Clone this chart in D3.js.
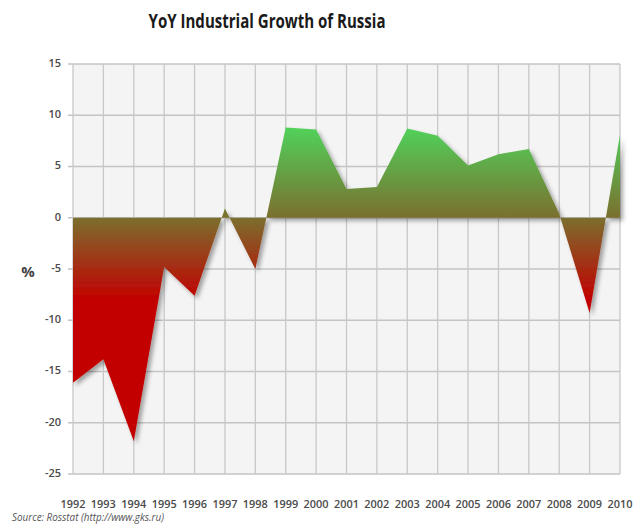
<html>
<head>
<script src="https://cdn.jsdelivr.net/npm/d3@7"></script>
<style>
  body { margin: 0; background: #fff; }
  text { font-family: "Open Sans", "DejaVu Sans", sans-serif; }
</style>
</head>
<body>
<div id="container1"></div>
<script>

const years = [1992,1993,1994,1995,1996,1997,1998,1999,2000,2001,2002,2003,2004,2005,2006,2007,2008,2009,2010];
const growth = [-16.1,-13.8,-21.8,-4.8,-7.6,0.9,-5.0,8.8,8.6,2.8,3.0,8.7,8.0,5.1,6.2,6.7,0.4,-9.3,8.1];
const yTicks = [15,10,5,0,-5,-10,-15,-20,-25];

const data = years.map((d, i) => ({year: d, value: growth[i]}));

const W = 634, H = 530;
const plotLeft = 73, plotRight = 620, plotTop = 64, plotBottom = 474;

const svg = d3.select("#container1")
  .append("svg")
    .attr("width", W)
    .attr("height", H);

const defs = svg.append("defs");

const x = d3.scaleLinear()
    .domain([1992, 2010])
    .range([plotLeft, plotRight]);

const y = d3.scaleLinear()
    .domain([-25, 15])
    .range([plotBottom, plotTop]);

// fill gradient green -> olive -> red
const grad = defs.append("linearGradient")
    .attr("id", "fillGrad")
    .attr("gradientUnits", "userSpaceOnUse")
    .attr("x1", 0).attr("x2", 0)
    .attr("y1", y(9)).attr("y2", y(-10));
grad.append("stop").attr("offset", 0).attr("stop-color", "#4fd45c");
grad.append("stop").attr("offset", 9/19).attr("stop-color", "#7b6f2e");
grad.append("stop").attr("offset", 17/19).attr("stop-color", "#c20000");
grad.append("stop").attr("offset", 1).attr("stop-color", "#c20000");

const shadow = defs.append("filter")
    .attr("id", "shadow")
    .attr("x", "-10%").attr("y", "-10%")
    .attr("width", "130%").attr("height", "130%");
shadow.append("feDropShadow")
    .attr("dx", 3).attr("dy", 3)
    .attr("stdDeviation", 2)
    .attr("flood-color", "#000")
    .attr("flood-opacity", 0.35);

const soft = defs.append("filter").attr("id", "soft");
soft.append("feGaussianBlur").attr("stdDeviation", 0.5);

// plot background
svg.append("rect")
    .attr("x", plotLeft).attr("y", plotTop)
    .attr("width", plotRight - plotLeft).attr("height", plotBottom - plotTop)
    .style("fill", "#f4f4f4");

// grid
const grid = svg.append("g").attr("filter", "url(#soft)");
grid.selectAll("line.h")
  .data(yTicks)
  .join("line")
    .attr("class", "h")
    .attr("x1", plotLeft - 5).attr("x2", plotRight)
    .attr("y1", d => y(d)).attr("y2", d => y(d))
    .style("stroke", "#c4c4c4")
    .style("stroke-width", 1.5);
grid.selectAll("line.v")
  .data(years)
  .join("line")
    .attr("class", "v")
    .attr("x1", d => x(d)).attr("x2", d => x(d))
    .attr("y1", plotTop).attr("y2", plotBottom)
    .style("stroke", "#c8c8c8")
    .style("stroke-width", 1.3);

// area
const area = d3.area()
    .x(d => x(d.year))
    .y0(y(0))
    .y1(d => y(d.value));

svg.append("path")
    .datum(data)
    .attr("d", area)
    .attr("fill", "url(#fillGrad)")
    .attr("filter", "url(#shadow)");

// y labels
svg.append("g")
  .selectAll("text")
  .data(yTicks)
  .join("text")
    .attr("x", plotLeft - 12)
    .attr("y", d => y(d))
    .attr("text-anchor", "end")
    .attr("dominant-baseline", "middle")
    .style("font-size", "11px")
    .style("font-weight", 600)
    .style("fill", "#4a4a4a")
    .text(d => d);

// x labels
svg.append("g")
  .selectAll("text")
  .data(years)
  .join("text")
    .attr("x", d => x(d))
    .attr("y", 505)
    .attr("text-anchor", "middle")
    .attr("dominant-baseline", "middle")
    .style("font-size", "10px")
    .style("font-weight", 600)
    .style("fill", "#4a4a4a")
    .attr("textLength", 25)
    .attr("lengthAdjust", "spacingAndGlyphs")
    .text(d => d);

svg.append("text")
    .attr("x", 28).attr("y", 273)
    .attr("text-anchor", "middle")
    .attr("dominant-baseline", "middle")
    .style("font-size", "15px")
    .style("font-weight", "bold")
    .style("fill", "#444")
    .text("%");

svg.append("text")
    .attr("x", 267).attr("y", 23)
    .attr("text-anchor", "middle")
    .attr("dominant-baseline", "middle")
    .style("font-size", "19px")
    .style("font-weight", "bold")
    .style("fill", "#1a1a1a")
    .attr("textLength", 237)
    .attr("lengthAdjust", "spacingAndGlyphs")
    .text("YoY Industrial Growth of Russia");

svg.append("text")
    .attr("x", 12).attr("y", 521)
    .style("font-size", "10px")
    .style("font-style", "italic")
    .style("fill", "#555")
    .attr("textLength", 152)
    .attr("lengthAdjust", "spacingAndGlyphs")
    .text("Source: Rosstat (http://www.gks.ru)");

</script>
</body>
</html>
